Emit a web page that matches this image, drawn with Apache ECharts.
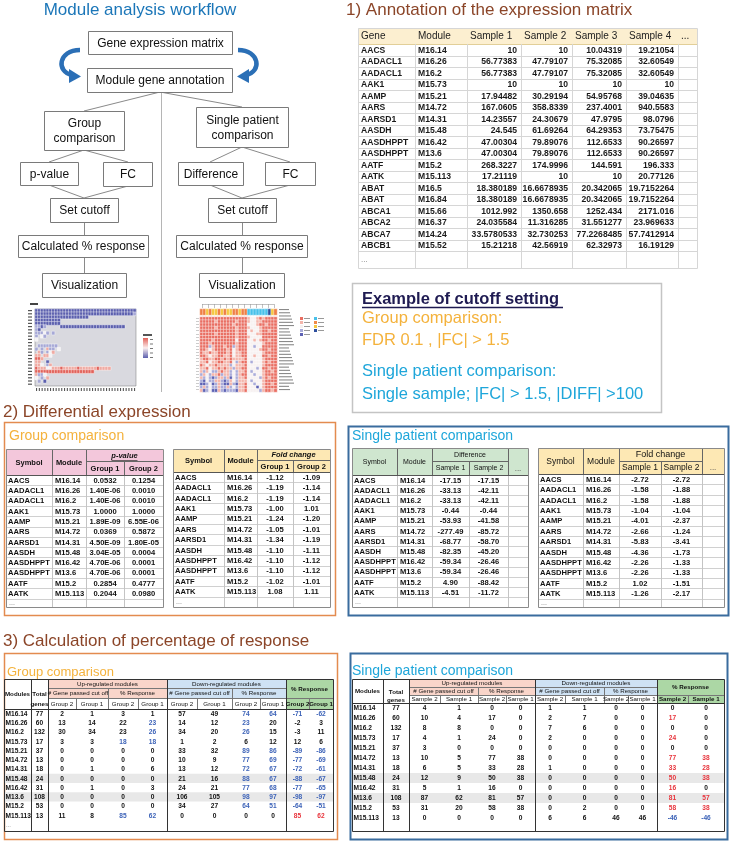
<!DOCTYPE html>
<html><head><meta charset="utf-8">
<script src="https://cdn.jsdelivr.net/npm/echarts@6/dist/echarts.min.js"></script>
<style>html,body{margin:0;padding:0;background:#fff}#c{width:730px;height:841px}</style>
</head><body><div id="c"></div>
<script>
// ---------------- DATA ----------------
const workflowTitle = 'Module analysis workflow';
const annTitle = '1) Annotation of the expression matrix';
const diffTitle = '2) Differential expression';
const respTitle = '3) Calculation of percentage of response';

const annHeader = ['Gene','Module','Sample 1','Sample 2','Sample 3','Sample 4','...'];
const annGene = ['AACS','AADACL1','AADACL1','AAK1','AAMP','AARS','AARSD1','AASDH','AASDHPPT','AASDHPPT','AATF','AATK','ABAT','ABAT','ABCA1','ABCA2','ABCA7','ABCB1'];
const annModule = ['M16.14','M16.26','M16.2','M15.73','M15.21','M14.72','M14.31','M15.48','M16.42','M13.6','M15.2','M15.113','M16.5','M16.84','M15.66','M16.37','M14.24','M15.52'];
const annS1 = ['10','56.77383','56.77383','10','17.94482','167.0605','14.23557','24.545','47.00304','47.00304','268.3227','17.21119','18.380189','18.380189','1012.992','24.035584','33.5780533','15.21218'];
const annS2 = ['10','47.79107','47.79107','10','30.29194','358.8339','24.30679','61.69264','79.89076','79.89076','174.9996','10','16.6678935','16.6678935','1350.658','11.316285','32.730253','42.56919'];
const annS3 = ['10.04319','75.32085','75.32085','10','54.95768','237.4001','47.9795','64.29353','112.6533','112.6533','144.591','10','20.342065','20.342065','1252.434','31.551277','77.2268485','62.32973'];
const annS4 = ['19.21054','32.60549','32.60549','10','39.04635','940.5583','98.0796','73.75475','90.26597','90.26597','196.333','20.77126','19.7152264','19.7152264','2171.016','23.969633','57.7412914','16.19129'];

const diffSymbol = ['AACS','AADACL1','AADACL1','AAK1','AAMP','AARS','AARSD1','AASDH','AASDHPPT','AASDHPPT','AATF','AATK'];
const diffModule = ['M16.14','M16.26','M16.2','M15.73','M15.21','M14.72','M14.31','M15.48','M16.42','M13.6','M15.2','M15.113'];
const pvalG1 = ['0.0532','1.40E-06','1.40E-06','1.0000','1.89E-09','0.0369','4.50E-09','3.04E-05','4.70E-06','4.70E-06','0.2854','0.2044'];
const pvalG2 = ['0.1254','0.0010','0.0010','1.0000','6.55E-06','0.5872','1.80E-05','0.0004','0.0001','0.0001','0.4777','0.0980'];
const fcG1 = ['-1.12','-1.19','-1.19','-1.00','-1.24','-1.05','-1.34','-1.10','-1.10','-1.10','-1.02','1.08'];
const fcG2 = ['-1.09','-1.14','-1.14','1.01','-1.20','-1.01','-1.19','-1.11','-1.12','-1.12','-1.01','1.11'];
const diffS1 = ['-17.15','-33.13','-33.13','-0.44','-53.93','-277.49','-68.77','-82.35','-59.34','-59.34','4.90','-4.51'];
const diffS2 = ['-17.15','-42.11','-42.11','-0.44','-41.58','-85.72','-58.70','-45.20','-26.46','-26.46','-88.42','-11.72'];
const fcS1 = ['-2.72','-1.58','-1.58','-1.04','-4.01','-2.66','-5.83','-4.36','-2.26','-2.26','1.02','-1.26'];
const fcS2 = ['-2.72','-1.88','-1.88','-1.04','-2.37','-1.24','-3.41','-1.73','-1.33','-1.33','-1.51','-2.17'];

const respModule = ['M16.14','M16.26','M16.2','M15.73','M15.21','M14.72','M14.31','M15.48','M16.42','M13.6','M15.2','M15.113'];
const respTotal = [77,60,132,17,37,13,18,24,31,108,53,13];
const gUpN1 = [2,13,30,3,0,0,0,0,0,0,0,11];
const gUpN2 = [1,14,34,3,0,0,1,0,1,0,0,8];
const gUpP1 = [3,22,23,18,0,0,0,0,0,0,0,85];
const gUpP2 = [1,23,26,18,0,0,6,0,3,0,0,62];
const gDnN1 = [57,14,34,1,33,10,13,21,24,106,34,0];
const gDnN2 = [49,12,20,2,32,9,12,16,21,105,27,0];
const gDnP1 = [74,23,26,6,89,77,72,88,77,98,64,0];
const gDnP2 = [64,20,15,12,86,69,67,67,68,97,51,0];
const gResp1 = [-71,-2,-3,12,-89,-77,-72,-88,-77,-98,-64,85];
const gResp2 = [-62,3,11,6,-86,-69,-61,-67,-65,-97,-51,62];
// rows whose % value is highlighted blue in the group table
const gUpP1Hi = [3,11];
const gUpP2Hi = [1,2,3,11];
const gDnP1Hi = [0,1,2,4,5,6,7,8,9,10];
const gDnP2Hi = [0,4,5,6,7,8,9,10];

const sUpN1 = [4,10,8,4,3,10,6,12,5,87,31,0];
const sUpN2 = [1,4,8,1,0,5,5,9,1,62,20,0];
const sUpP1 = [0,17,0,24,0,77,33,50,16,81,58,0];
const sUpP2 = [0,0,0,0,0,38,28,38,0,57,38,0];
const sDnN1 = [1,2,7,2,0,0,1,0,0,0,0,6];
const sDnN2 = [1,7,6,0,0,0,0,0,0,0,2,6];
const sDnP1 = [0,0,0,0,0,0,0,0,0,0,0,46];
const sDnP2 = [0,0,0,0,0,0,0,0,0,0,0,46];
const sResp1 = [0,17,0,24,0,77,33,50,16,81,58,-46];
const sResp2 = [0,0,0,0,0,38,28,38,0,57,38,-46];

// thumbnail heatmaps (b/l = down, w = neutral, p/r = up, . = empty)
const thumbLeft = [
'bbbbbbbbbbbbbbbbbbbbbbbbbbbbbbbbbbbb',
'bbbbbbbbbbbbbbbbbbbbbbbbbbbbbbbbbbbl',
'bbbbbbbbbbbbbbbbbbb.................',
'bbbbbbbbb...........................',
'bbbbbbbbb...........................',
'llbl.....bbbbbbbbbbbbbbbbbbbbbbb....',
'lb..................................',
'lllwl.l.............................',
'l.wl................................',
'w...................................',
'....................................',
'.lllllll............................',
'l.l.pll.w...........................',
'.pl.lwp.............................',
'pp.ppw..............................',
'rrp.................................',
'pp..b...............................',
'ppw.lp..............................',
'rpppwwppprppppprpppppprpppp.........',
'rrrrrrrrrrrrrrrrrrrrr...............',
'pllw................................',
'w.l.p...............................',
'.l.b................................',
'....................................'
];
const thumbRightAnnot = ['ooyoyyoyoyyooyoocccccccdyo'];
const thumbRight = [
'rrrrrrrrrrrrrrrrpwwprprrrr',
'rrrrrprrrrrrprrrpwwpprrrrr',
'rrrrrrrrrrrprrrrwwwprrprrr',
'rrrrrprrrrrrprrrpwwwprrrrr',
'rrrrrrrrrrrrprrrwpwwprrprr',
'rrrrrprrrrrrprrrwwwpprrrrr',
'rrrrrrrrrrrrprrrpwwwwrrrrr',
'rrrrprrrrrrrwrrrwwpwprrprr',
'rrrprrrrrrrrprrrwwwwwprrrr',
'rrrlprrrprrlprrrwwlwwrrrrr',
'rrpwprrrrprwprrrwwwwprrprr',
'rpprpprrrprwpprrwwwwwprrrr',
'rrpwpprrpprwpprrwwpwwrrprr',
'prrpprrprprpppprwwwwwprrrr',
'pprwpprrpprwlprrwlwwwprprr',
'rpwpprpppplwppprwwwwwprrrr',
'pprwpprprpplpprrwwwlwrrprr',
'plpwllprpplwlpprwlwwwprrpr',
'lpwlpprlpplwlprrwwlwwprrrr',
'plwlblpplpbwlpprwwwwlprprr',
'lbwllpplblpwlpppwlwwwprrrr',
'bblwblplbbplbpprwwlwwprrpr',
'lplwllpllplwlpprwwwbwprrrr',
'pblwbbplblllbpprwwwwlprrpr'
];

// ---------------- HELPERS ----------------
const FONT = '"Liberation Sans", Arial, Helvetica, sans-serif';
const G = [];
function px(v){ return Math.round(v) + 0.5; }
function rect(x,y,w,h,fill,stroke,lw){ G.push({type:'rect',silent:true,shape:{x:x,y:y,width:w,height:h},style:{fill:fill||'none',stroke:stroke||'none',lineWidth:lw||1}}); }
function box(x,y,w,h,stroke,lw,fill){ rect(px(x),px(y),Math.round(w),Math.round(h),fill||'none',stroke,lw); }
function line(x1,y1,x2,y2,stroke,lw){ G.push({type:'line',silent:true,shape:{x1:x1,y1:y1,x2:x2,y2:y2},style:{stroke:stroke||'#888',lineWidth:lw||1}}); }
function hline(x1,x2,y,c,lw){ line(x1,px(y),x2,px(y),c,lw); }
function vline(x,y1,y2,c,lw){ line(px(x),y1,px(x),y2,c,lw); }
function txt(x,y,s,o){ o=o||{}; G.push({type:'text',silent:true,x:x,y:y,style:{text:String(s),fill:o.c||'#111',font:(o.i?'italic ':'')+(o.b?'bold ':'')+(o.s||10)+'px '+FONT,textAlign:o.a||'left',textVerticalAlign:o.v||'middle',lineHeight:o.lh||undefined}}); }

const BROWN = '#8b4528', ORANGE = '#f4b23c', CYAN = '#1ea6da', NAVY = '#1f1b52';

// ---------------- WORKFLOW ----------------
txt(140, 10, workflowTitle, {s:17, c:'#1b76b8', a:'center'});
const wfBoxes = [
  [88,31,144,23,'Gene expression matrix'],
  [87,68,145,24,'Module gene annotation'],
  [44,111,80,39,'Group\ncomparison'],
  [196,107,92,40,'Single patient\ncomparison'],
  [20,162,58,23,'p-value'],
  [103,162,49,24,'FC'],
  [178,162,65,23,'Difference'],
  [265,162,50,23,'FC'],
  [50,198,68,24,'Set cutoff'],
  [208,198,68,24,'Set cutoff'],
  [18,235,130,22,'Calculated % response'],
  [176,235,131,22,'Calculated % response'],
  [42,273,84,24,'Visualization'],
  [199,273,85,24,'Visualization']
];
const WL = '#8a8a8a';
// connectors
line(160,92,84,111,WL); line(160,92,242,107,WL);
vline(161,92,392,'#b5b5b5');
line(84,150,49,162,WL); line(84,150,128,162,WL);
line(242,147,210,162,WL); line(242,147,290,162,WL);
line(49,185,84,198,WL); line(128,186,84,198,WL);
line(210,185,242,198,WL); line(290,185,242,198,WL);
vline(84,222,235,WL); vline(242,222,235,WL);
vline(84,257,273,WL); vline(242,257,273,WL);
wfBoxes.forEach(b=>{
  box(b[0],b[1],b[2],b[3],'#7a7a7a',1,'#fff');
  txt(b[0]+b[2]/2+0.5, b[1]+b[3]/2+1, b[4], {s:12, a:'center', lh:15, c:'#111'});
});
// curved arrows
const AC = '#2b6fb6';
[[1,0],[-1,318]].forEach(([sx,off])=>{
  const X = v => off + sx*v;
  G.push({type:'bezierCurve',silent:true,shape:{x1:X(80),y1:50,cpx1:X(58),cpy1:50,cpx2:X(56),cpy2:72,x2:X(72),y2:75},style:{stroke:AC,lineWidth:4.5,fill:'none'}});
  G.push({type:'polygon',silent:true,shape:{points:[[X(69),69],[X(81),76.5],[X(69),83]]},style:{fill:AC}});
});

// ---------------- THUMBNAIL DECORATIONS ----------------
// left thumb labels / legend
for (let i=0;i<thumbLeft.length;i++) rect(28, 310+i*3.2, 4, 1.2, '#555');
for (let j=0;j<thumbLeft[0].length;j++) rect(36+j*2.8, 388, 1.1, 3, '#555');
rect(30,303,8,2,'#444');
G.push({type:'rect',silent:true,shape:{x:143,y:338,width:5,height:20},style:{fill:{type:'linear',x:0,y:0,x2:0,y2:1,colorStops:[{offset:0,color:'#e2625a'},{offset:0.5,color:'#fbeeee'},{offset:1,color:'#5b5fae'}]}}});
rect(143,334,9,2,'#555');
for (let i=0;i<5;i++) rect(150,339+i*4.5,3,1,'#777');
// right thumb row labels, dendrogram, legend
for (let i=0;i<thumbRight.length+2;i++) rect(279, 309+i*3.2, 10+(i*7%6), 1.1, '#8a8a8a');
for (let j=0;j<13;j++){ vline(202+j*6,304,308,'#999',0.6); }
hline(202,274,304,'#999',0.6);
for (let i=0;i<24;i++) hline(196,199,318+i*3.1,'#aaa',0.6);
const thumbLegendColors = ['#e96e62','#f4b5ab','#f6f0f0','#a9abd9','#5d62b4','#48c1ea','#ef8a4a','#f5c842','#2d4f9e'];
thumbLegendColors.forEach((c,i)=>{ const col = i<5?0:1; const r = i<5?i:i-5; rect(300+col*14, 317+r*4, 3, 3, c); rect(304+col*14, 318+r*4, 6, 1, '#999'); });

// ---------------- SECTION 1 TABLE ----------------
txt(346, 10, annTitle, {s:17, c:BROWN});
const annCols = [358,415,467,521,572,626,678,697];
const annHeadBot = 44, annRowH = 11.5, annBottom = 268;
rect(358,28,339,16,'#fcefd0');
hline(358,697,annHeadBot,'#e2cf98');
for (let i=1;i<=annGene.length;i++) hline(358,697,annHeadBot+i*annRowH,'#d6d6d6');
for (let k=1;k<annCols.length-1;k++) vline(annCols[k],annHeadBot,annBottom,'#d6d6d6');
box(358,28,339,240,'#d6d6d6',1);
annHeader.forEach((h,k)=> txt(annCols[k]+3, 36.5, h, {s:10, c:'#222'}));
const annVals = [annS1,annS2,annS3,annS4];
annGene.forEach((g,i)=>{
  const y = annHeadBot + i*annRowH + annRowH/2 + 0.5;
  txt(annCols[0]+3, y, g, {s:8.6, b:true, c:'#1a1a1a'});
  txt(annCols[1]+3, y, annModule[i], {s:8.6, b:true, c:'#1a1a1a'});
  annVals.forEach((arr,k)=> txt(annCols[k+3]-4, y, arr[i], {s:8.6, b:true, a:'right', c:'#1a1a1a'}));
});
txt(annCols[0]+3, (annHeadBot+annGene.length*annRowH+annBottom)/2, '...', {s:8, c:'#777'});

// ---------------- CUTOFF BOX ----------------
box(352,283,309,129,'#c4c4c4',1.5,'#fff');
txt(362,299,'Example of cutoff setting',{s:16.5,b:true,c:NAVY});
hline(362,563,307,NAVY,1.5);
txt(362,318.5,'Group comparison:',{s:16.5,c:ORANGE});
txt(362,340,'FDR 0.1 , |FC| > 1.5',{s:16.5,c:ORANGE});
txt(362,371.5,'Single patient comparison:',{s:16.5,c:CYAN});
txt(362,394.5,'Single sample; |FC| > 1.5, |DIFF| >100',{s:16.5,c:CYAN});

// ---------------- SECTION 2 ----------------
txt(3, 412, diffTitle, {s:17, c:BROWN});
box(4,422,331,193,'#e38b4f',1.5);
txt(9,436,'Group comparison',{s:14,c:ORANGE});
box(348,426,380,189,'#3a6c9e',2);
txt(352,436,'Single patient comparison',{s:14,c:CYAN});

function diffTable(c){
  const e=c.edges, L=e[0], R=e[e.length-1], hb=c.headBot;
  rect(L, c.top, R-L, hb-c.top, c.fill);
  const n = c.v1.length;
  for (let i=1;i<=n;i++) hline(L,R,hb+i*c.rowH,'#d0d0d0');
  for (let k=1;k<e.length-1;k++) vline(e[k],hb,c.bottom,'#c4c4c4');
  vline(e[1],c.top,hb,'#666'); vline(e[2],c.top,hb,'#666'); vline(e[3],c.split,hb,'#666');
  if (e.length>5) vline(e[4],c.top,hb,'#666');
  hline(e[2],e[4],c.split,'#666');
  hline(L,R,hb,'#555');
  box(L,c.top,R-L,c.bottom-c.top,'#8a8a8a',1);
  const my=(c.top+hb)/2+0.5;
  txt((L+e[1])/2, my, 'Symbol', {s:c.hs, b:c.hb, a:'center'});
  txt((e[1]+e[2])/2, my, 'Module', {s:c.hs, b:c.hb, a:'center'});
  const gx=(e[2]+e[4])/2, gy=(c.top+c.split)/2+0.5;
  txt(gx, gy, c.group, {s:c.gs, i:c.gi, b:c.hb, a:'center'});
  if (c.gu) hline(gx-13, gx+13, gy+4, '#333', 0.7);
  const sy=(c.split+hb)/2+0.5;
  txt((e[2]+e[3])/2, sy, c.sub[0], {s:c.ss, b:c.hb, a:'center'});
  txt((e[3]+e[4])/2, sy, c.sub[1], {s:c.ss, b:c.hb, a:'center'});
  if (e.length>5) txt((e[4]+e[5])/2, sy, '...', {s:8, a:'center', c:'#444'});
  for (let i=0;i<n;i++){
    const y = hb + i*c.rowH + c.rowH/2 + 0.5;
    txt(L+2, y, diffSymbol[i], {s:c.ds, b:true});
    txt(e[1]+3, y, diffModule[i], {s:c.ds, b:true});
    txt((e[2]+e[3])/2, y, c.v1[i], {s:c.ds, b:true, a:'center'});
    txt((e[3]+e[4])/2, y, c.v2[i], {s:c.ds, b:true, a:'center'});
  }
  txt(L+3, (hb+n*c.rowH+c.bottom)/2, '...', {s:7, c:'#777'});
}
diffTable({edges:[6,52,86,124,163], top:449, split:461, headBot:475, rowH:10.3, bottom:607, fill:'#f3c7db',
  group:'p-value', gi:true, gu:true, sub:['Group 1','Group 2'], v1:pvalG1, v2:pvalG2, hs:7.5, gs:7.5, ss:7.5, ds:7.6, hb:true});
diffTable({edges:[173,224,257,293,330], top:449, split:460, headBot:472, rowH:10.4, bottom:607, fill:'#fde8b4',
  group:'Fold change', gi:true, gu:false, sub:['Group 1','Group 2'], v1:fcG1, v2:fcG2, hs:7.5, gs:7.5, ss:7.5, ds:7.6, hb:true});
diffTable({edges:[352,397,432,469,508,528], top:448, split:461, headBot:475, rowH:10.2, bottom:607, fill:'#cfe6cf',
  group:'Difference', gi:false, gu:false, sub:['Sample 1','Sample 2'], v1:diffS1, v2:diffS2, hs:7, gs:7, ss:7, ds:7.6, hb:false});
diffTable({edges:[538,583,619,661,702,724], top:448, split:461, headBot:474, rowH:10.4, bottom:607, fill:'#fde8b4',
  group:'Fold change', gi:false, gu:false, sub:['Sample 1','Sample 2'], v1:fcS1, v2:fcS2, hs:8.5, gs:9, ss:8.5, ds:7.6, hb:false});

// ---------------- SECTION 3 ----------------
txt(3, 641, respTitle, {s:17, c:BROWN});
box(4,653,333,186,'#e38b4f',1.5);
txt(7,672,'Group comparison',{s:13,c:ORANGE});
box(350,653,377,186,'#3a6c9e',2);
txt(352,671,'Single patient comparison',{s:14,c:CYAN});

const BLUE='#3d63b8', RED='#e8343c';
function respTable(c){
  const e=c.edges, L=e[0], R=e[12];
  const n=respModule.length;
  c.shade.forEach(i=> rect(L, c.hb+i*c.rowH, R-L, c.rowH, '#e8e8e8'));
  rect(e[2], c.top, e[6]-e[2], c.b2-c.top, '#f9d5ca');
  rect(e[6], c.top, e[10]-e[6], c.b2-c.top, '#cfe2f4');
  rect(e[10], c.top, e[12]-e[10], c.hb-c.top, '#acd7a5');
  hline(e[2],e[10],c.b1,'#777'); hline(e[2],e[12],c.b2,'#777'); hline(L,R,c.hb,'#333');
  vline(e[4],c.b1,c.hb,'#777'); vline(e[8],c.b1,c.hb,'#777');
  [3,5,7,9,11].forEach(k=> vline(e[k],c.b2,c.hb,'#777'));
  [1,2,6,10].forEach(k=> vline(e[k],c.top,c.bottom,'#333'));
  box(L,c.top,R-L,c.bottom-c.top,'#333',1);
  const HS=6.2;
  txt((L+e[1])/2, (c.top+c.hb)/2, 'Modules', {s:HS, b:true, a:'center'});
  txt((e[1]+e[2])/2, (c.b1+c.b2)/2+1, 'Total', {s:HS, b:true, a:'center'});
  txt((e[1]+e[2])/2, (c.b2+c.hb)/2+1, 'genes', {s:HS, b:true, a:'center'});
  const y1=(c.top+c.b1)/2+0.5, y2=(c.b1+c.b2)/2+0.5, y3=(c.b2+c.hb)/2+0.5;
  txt((e[2]+e[6])/2, y1, 'Up-regulated modules', {s:HS, a:'center'});
  txt((e[6]+e[10])/2, y1, 'Down-regulated modules', {s:HS, a:'center'});
  txt((e[10]+e[12])/2, (c.top+c.b2)/2+0.5, '% Response', {s:HS, b:true, a:'center'});
  txt((e[2]+e[4])/2, y2, '# Gene passed cut off', {s:HS, a:'center'});
  txt((e[4]+e[6])/2, y2, '% Response', {s:HS, a:'center'});
  txt((e[6]+e[8])/2, y2, '# Gene passed cut off', {s:HS, a:'center'});
  txt((e[8]+e[10])/2, y2, '% Response', {s:HS, a:'center'});
  for (let k=2;k<12;k++) txt((e[k]+e[k+1])/2, y3, c.sub[(k)%2], {s:HS, a:'center', b:k>=10});
  const cols=c.cols;
  for (let i=0;i<n;i++){
    const y = c.hb + i*c.rowH + c.rowH/2 + 0.5;
    txt(L+1.5, y, respModule[i], {s:6.6, b:true});
    cols.forEach((arr,k)=>{
      let col='#111';
      if (c.hi[k] && c.hi[k].indexOf(i)>=0) col=BLUE;
      if (k>=9){ if (arr[i]<=-15) col=BLUE; else if (arr[i]>=15) col=RED; }
      txt((e[k+1]+e[k+2])/2, y, arr[i], {s:6.6, b:true, a:'center', c:col});
    });
  }
  if (c.dots) txt(L+2, (c.hb+n*c.rowH+c.bottom)/2, '...', {s:6, c:'#666'});
}
respTable({edges:[4,31,48,76,108,138,167,197,232,260,286,309,333], top:679, b1:688, b2:698, hb:709, rowH:9.25, bottom:831,
  sub:['Group 2','Group 1'], shade:[7,9], dots:true,
  cols:[respTotal,gUpN1,gUpN2,gUpP1,gUpP2,gDnN1,gDnN2,gDnP1,gDnP2,gResp1,gResp2],
  hi:{3:gUpP1Hi,4:gUpP2Hi,7:gDnP1Hi,8:gDnP2Hi}});
respTable({edges:[352,383,409,440,478,506,535,565,604,628,657,688,724], top:679, b1:687, b2:695, hb:703, rowH:10, bottom:831,
  sub:['Sample 2','Sample 1'], shade:[7,9], dots:false,
  cols:[respTotal,sUpN1,sUpN2,sUpP1,sUpP2,sDnN1,sDnN2,sDnP1,sDnP2,sResp1,sResp2],
  hi:{}});

// ---------------- HEATMAP THUMBNAILS (series) ----------------
const CODE = {b:-2,l:-1,w:0,p:1,r:2,o:3,y:4,c:5,d:6};
function gridData(rows){ const d=[]; rows.forEach((r,y)=>{ for (let x=0;x<r.length;x++){ const v=CODE[r[x]]; if (v!==undefined) d.push([x,y,v]); } }); return d; }
function cats(n){ return Array.from({length:n},(_,i)=>String(i)); }
const grids = [
  {left:35, top:309, width:101, height:77, show:true, backgroundColor:'#d9d9df', borderColor:'#777', borderWidth:0.5},
  {left:200, top:309, width:77, height:6},
  {left:200, top:317, width:77, height:75}
];
const mats = [thumbLeft, thumbRightAnnot, thumbRight];
const option = {
  animation:false,
  backgroundColor:'#fff',
  grid: grids,
  xAxis: mats.map((m,i)=>({type:'category', gridIndex:i, data:cats(m[0].length), show:false})),
  yAxis: mats.map((m,i)=>({type:'category', gridIndex:i, data:cats(m.length), show:false, inverse:true})),
  visualMap: [
    {type:'piecewise', show:false, seriesIndex:0, dimension:2, pieces:[{value:-2,color:'#5b5fae'},{value:-1,color:'#a6a8d6'},{value:0,color:'#f4f2f4'},{value:1,color:'#f0aaa2'},{value:2,color:'#e2625a'}]},
    {type:'piecewise', show:false, seriesIndex:1, dimension:2, pieces:[{value:3,color:'#ef7f45'},{value:4,color:'#f5c842'},{value:5,color:'#48c1ea'},{value:6,color:'#2d4f9e'}]},
    {type:'piecewise', show:false, seriesIndex:2, dimension:2, pieces:[{value:-2,color:'#5d62b4'},{value:-1,color:'#a9abd9'},{value:0,color:'#f7f1f1'},{value:1,color:'#f4b5ab'},{value:2,color:'#e96e62'}]}
  ],
  series: mats.map((m,i)=>({type:'heatmap', xAxisIndex:i, yAxisIndex:i, data:gridData(m), silent:true,
    itemStyle:{borderColor:'#fff', borderWidth:0.4}})),
  graphic: {elements: G}
};
const chart = echarts.init(document.getElementById('c'), null, {renderer:'canvas'});
chart.setOption(option);
</script></body></html>
